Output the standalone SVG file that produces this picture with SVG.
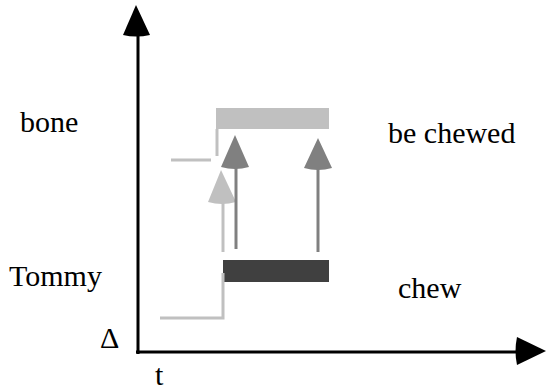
<svg xmlns="http://www.w3.org/2000/svg" width="547" height="391" viewBox="0 0 547 391">
<style>
.lg{stroke:#c0c0c0;stroke-width:3;fill:none}
.dg{stroke:#808080;stroke-width:3;fill:none}
</style>
<rect width="547" height="391" fill="#fff"/>
<g id="axes">
<line x1="138" y1="32" x2="138" y2="354" stroke="#000" stroke-width="3"/>
<line x1="136" y1="352" x2="520" y2="352" stroke="#000" stroke-width="3"/>
<path d="M136,5 L150,35 Q136,38 123,35 Z" fill="#000"/>
<path d="M546,351 L517,337 Q514,351 517,365 Z" fill="#000"/>
</g>
<g id="labels" font-family="Liberation Serif, DejaVu Serif, serif" font-size="30" fill="#000">
<text x="20" y="132">bone</text>
<text x="388" y="143">be chewed</text>
<text x="9" y="286">Tommy</text>
<text x="398" y="298">chew</text>
<text x="100" y="348">Δ</text>
<text x="155" y="385">t</text>
</g>
<g id="bone-bar">
<rect x="216" y="108" width="113" height="21" fill="#c0c0c0"/>
<polyline class="lg" points="217,129 217,156"/>
<line class="lg" x1="171" y1="160" x2="211" y2="160"/>
</g>
<g id="tommy-bar">
<rect x="223" y="260" width="106" height="22" fill="#404040"/>
<polyline class="lg" points="160,318 223,318 223,273"/>
</g>
<g id="connectors">
<line class="lg" x1="223" y1="200" x2="223" y2="252"/>
<path d="M221,170 L236,202 Q222,206 208,202 Z" fill="#c0c0c0"/>
<line class="dg" x1="236" y1="165" x2="236" y2="249"/>
<path d="M235,135 L249,167 Q235,171 221,167 Z" fill="#808080"/>
<line class="dg" x1="318" y1="166" x2="318" y2="252"/>
<path d="M318,138 L332,168 Q318,172 304,168 Z" fill="#808080"/>
</g>
</svg>
